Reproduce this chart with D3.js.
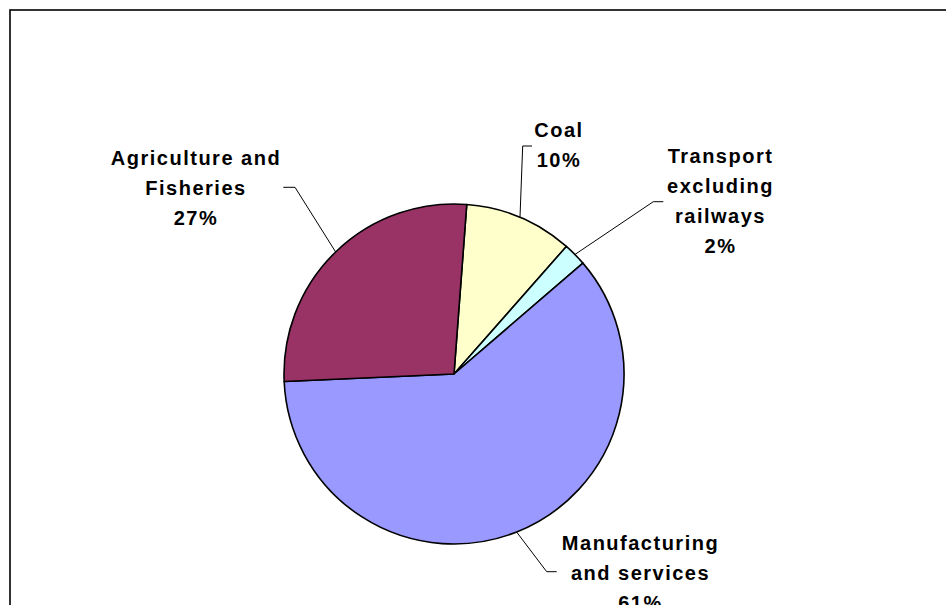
<!DOCTYPE html>
<html>
<head>
<meta charset="utf-8">
<script src="https://cdn.jsdelivr.net/npm/d3@7"></script>
<style>
  html, body { margin: 0; padding: 0; background: #fff; }
  svg { display: block; }
  .lbl { font-family: "Liberation Sans", Arial, sans-serif; font-weight: bold; font-size: 20px; letter-spacing: 1.5px; fill: #000; }
</style>
</head>
<body>
<svg id="chart" width="946" height="605"></svg>
<script>
// Data (clockwise order, starting just right of 12 o'clock)
const categories = ["Coal", "Transport excluding railways", "Manufacturing and services", "Agriculture and Fisheries"];
const labelLines = [["Coal"], ["Transport", "excluding", "railways"], ["Manufacturing", "and services"], ["Agriculture and", "Fisheries"]];
const values = [10.3, 2.2, 60.6, 26.9];
const colors = ["#FFFFCC", "#CCFFFF", "#9999FF", "#993366"];

const svg = d3.select("#chart");
const W = 946, H = 605;

// chart area border
svg.append("rect")
  .attr("x", 10).attr("y", 10)
  .attr("width", W + 20).attr("height", H + 20)
  .attr("fill", "none").attr("stroke", "#000").attr("stroke-width", 1.6);

const cx = 454, cy = 374, R = 170;
const start = 4.3 * Math.PI / 180;
const total = d3.sum(values);

const pie = d3.pie().sort(null).value(d => d)
  .startAngle(start).endAngle(start + 2 * Math.PI);
const arcs = pie(values);
const arc = d3.arc().innerRadius(0).outerRadius(R);

const g = svg.append("g").attr("transform", `translate(${cx},${cy})`);
g.selectAll("path").data(arcs).enter().append("path")
  .attr("d", arc)
  .attr("fill", (d, i) => colors[i])
  .attr("stroke", "#000").attr("stroke-width", 1.6)
  .attr("stroke-linejoin", "round");

// label layout: text centre x, first baseline y, and leader line bend/end points
const layout = [
  { x: 559, y: 137, pts: [[522.7, 146], [532, 146]] },
  { x: 720.5, y: 163, pts: [[653.3, 201.7], [663.3, 201.7]] },
  { x: 640.5, y: 550, pts: [[546.7, 571.7], [556.7, 571.7]] },
  { x: 196, y: 165, pts: [[295, 187.3], [283.3, 187.3]] }
];
const lineH = 30;

arcs.forEach((a, i) => {
  const mid = (a.startAngle + a.endAngle) / 2;
  const p0 = [cx + R * Math.sin(mid), cy - R * Math.cos(mid)];
  const L = layout[i];
  const pts = [p0].concat(L.pts);
  svg.append("path")
    .attr("d", d3.line()(pts))
    .attr("fill", "none").attr("stroke", "#000").attr("stroke-width", 1);

  const pct = Math.round(values[i] / total * 100) + "%";
  const lines = labelLines[i].concat([pct]);
  const t = svg.append("text").attr("class", "lbl").attr("text-anchor", "middle");
  lines.forEach((s, k) => {
    t.append("tspan").attr("x", L.x).attr("y", L.y + k * lineH).text(s);
  });
});
</script>
</body>
</html>
